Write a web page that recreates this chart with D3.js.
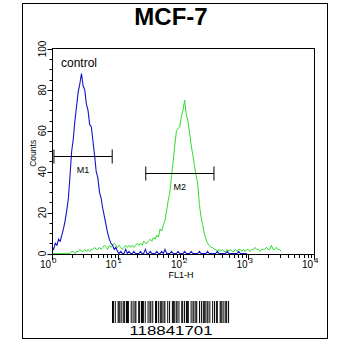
<!DOCTYPE html>
<html><head><meta charset="utf-8">
<script src="https://cdn.jsdelivr.net/npm/d3@7"></script>
<style>html,body{margin:0;padding:0;background:#fff;}svg{display:block;font-family:Arial,"Liberation Sans",sans-serif;}</style>
</head><body>
<svg id="chart" width="350" height="350"></svg>
<script>
// ---- data ----
const title = "MCF-7";
const xLabel = "FL1-H";
const yLabel = "Counts";
const sampleId = "118841701";
const controlLabel = "control";
const logStep = 0.025; // histogram channel width in decades
// control (blue) histogram counts, channels starting at 10^0
const blueCounts = [3,2,5,4,7,6,9,12,16,21,27,38,50,56,65,72,79,83,88,82,80,73,70,63,62,55,48,40,37,30,27,22,18,14,10,7,5,4,2,3,1,
  0,1,0,0,2,0,1,0,0,1,0,0,0,1,0,0,2,0,0,1,0,0,0,1,0,0,1,0,2,0,0,0,1,0,0,0,1,0,0,0,1,0,0,0,1,0,0,0,0,1,0,0,0,0,1,0,0,0,0,0,1,0,0,0,0,0,1,0,0,0,0,0,0,1,0,0,0,0,0];
// MCF-7 (green) histogram counts, channels starting at 10^0
const greenCounts = [0,0,0,0,0,0,0,0,0,0,0,0,1,
  1,0,1,1,2,1,1,2,1,2,1,2,2,3,2,2,3,2,3,4,3,2,4,3,4,5,4,3,4,3,2,3,4,3,4,3,4,3,4,5,4,5,4,6,5,5,6,7,6,8,7,9,8,12,11,14,16,21,26,30,38,45,53,60,61,62,67,70,75,68,65,59,53,48,43,38,34,24,18,14,10,7,5,4,3,3,2,2,1,2,
  1,2,1,1,2,1,2,1,1,2,1,2,2,1,2,1,2,2,1,2,2,3,2,2,1,2,2,2,3,2,2,4,2,2,3,2,2,1];
const markers = [
  {name:"M1", from:1.07, to:8.3, level:47.8},
  {name:"M2", from:27, to:297, level:39.5}
];
const yTicks = [0,20,40,60,80,100];
const xDecades = [0,1,2,3,4];
const barcodePattern = "11010011101011011100101011001101110100101101001101011101100101001110110100110101110010110110010101110110100101011001110101101";

// ---- layout ----
const svg = d3.select("#chart");
const L = 52, R = 314, T = 49, B = 255;
const x = d3.scaleLog().domain([1, 1e4]).range([L, R]);
const y = d3.scaleLinear().domain([0, 100]).range([253.5, T]);

// outer border
svg.append("rect").attr("x",22.5).attr("y",3.5).attr("width",305).attr("height",335)
  .attr("fill","none").attr("stroke","#000").attr("stroke-width",1);

// title
svg.append("text").attr("x",171).attr("y",25).attr("text-anchor","middle")
  .attr("font-size",24).attr("font-weight","bold").text(title);

// curves
const line = d3.line().x(d => x(d[0])).y(d => y(d[1]));
const toPts = arr => arr.map((c,i) => [Math.pow(10, i*logStep), c]);
svg.append("path").datum(toPts(greenCounts)).attr("d", line)
  .attr("fill","none").attr("stroke","#2fdc2f").attr("stroke-width",1);
svg.append("path").datum(toPts(blueCounts)).attr("d", line)
  .attr("fill","none").attr("stroke","#1414c8").attr("stroke-width",1.1);

// frame
svg.append("rect").attr("x",L+0.5).attr("y",T-0.5).attr("width",R-L).attr("height",B-T)
  .attr("fill","none").attr("stroke","#000").attr("stroke-width",1);

// y axis ticks
const yMinor = d3.range(0, 101, 5);
svg.append("g").selectAll("line").data(yMinor).join("line")
  .attr("x1", L+0.5).attr("x2", d => L+0.5 - (d%20===0 ? 5 : 3))
  .attr("y1", d => Math.round(y(d))+0.5).attr("y2", d => Math.round(y(d))+0.5)
  .attr("stroke","#000");
svg.append("g").selectAll("text").data(yTicks).join("text")
  .attr("transform", d => `translate(46,${y(d)}) rotate(-90)`)
  .attr("text-anchor","middle").attr("font-size",10).text(d => d);
svg.append("text").attr("transform", `translate(35.5,${y(49)}) rotate(-90)`)
  .attr("text-anchor","middle").attr("font-size",8.5).text(yLabel);

// x axis ticks
const xMinor = [];
for (let dcd = 0; dcd < 4; dcd++) for (let m = 1; m < 10; m++) xMinor.push(m*Math.pow(10,dcd));
xMinor.push(1e4);
svg.append("g").selectAll("line").data(xMinor).join("line")
  .attr("x1", d => Math.round(x(d))+0.5).attr("x2", d => Math.round(x(d))+0.5)
  .attr("y1", B).attr("y2", d => B + (Math.abs(Math.log10(d)%1) < 1e-9 ? 5 : 3))
  .attr("stroke","#000");
svg.append("g").selectAll("text").data(xDecades).join("text")
  .attr("x", d => x(Math.pow(10,d)) - 1).attr("y", 268).attr("font-size",10)
  .attr("text-anchor","end").text("10");
svg.append("g").selectAll("text").data(xDecades).join("text")
  .attr("x", d => x(Math.pow(10,d))).attr("y", 263).attr("font-size",8).text(d => d);
svg.append("text").attr("x",181).attr("y",278).attr("text-anchor","middle")
  .attr("font-size",9).text(xLabel);

// control label
svg.append("text").attr("x",61).attr("y",67).attr("font-size",12).text(controlLabel);

// markers
const mg = svg.append("g");
markers.forEach(m => {
  const yy = Math.round(y(m.level)) + 0.5;
  const x1 = x(m.from), x2 = x(m.to);
  mg.append("line").attr("x1",x1).attr("x2",x2).attr("y1",yy).attr("y2",yy).attr("stroke","#000");
  mg.append("line").attr("x1",x1).attr("x2",x1).attr("y1",yy-7).attr("y2",yy+7).attr("stroke","#000");
  mg.append("line").attr("x1",x2).attr("x2",x2).attr("y1",yy-7).attr("y2",yy+7).attr("stroke","#000");
  mg.append("text").attr("x",(x1+x2)/2).attr("y",yy+16).attr("text-anchor","middle")
    .attr("font-size",9).text(m.name);
});

// barcode
const bx0 = 112, bw = 117;
const mod = bw / barcodePattern.length;
const bg = svg.append("g");
barcodePattern.split("").forEach((c,i) => {
  if (c === "1") bg.append("rect").attr("x", bx0 + i*mod).attr("y",301).attr("width",mod+0.05).attr("height",22).attr("fill","#000");
});
svg.append("text").attr("x",171).attr("y",335).attr("text-anchor","middle")
  .attr("font-size",13).attr("textLength",83).attr("lengthAdjust","spacingAndGlyphs").text(sampleId);
</script>
</body></html>
